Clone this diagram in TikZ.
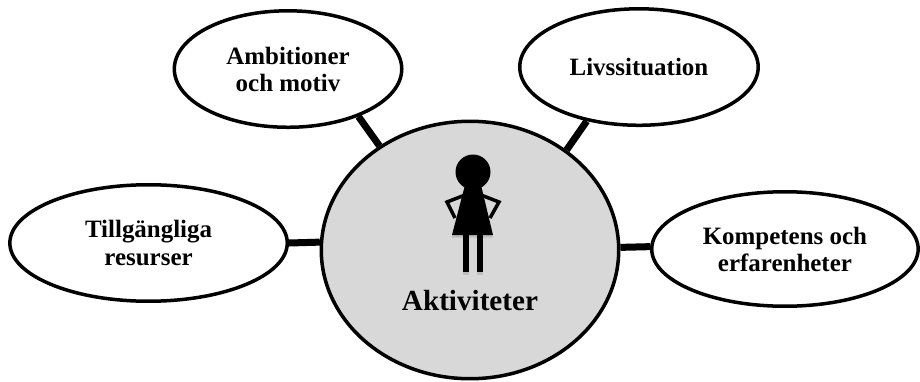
\documentclass[tikz,border=0pt]{standalone}
\usepackage{fontspec}
\setmainfont{Liberation Serif}
\usepackage{xcolor}
\usetikzlibrary{shapes,shapes.geometric,positioning,shadows}
\definecolor{hubgray}{RGB}{216,216,216}

\tikzset{
	bubble/.style = {draw, ellipse, line width = 0.07cm, fill = white, inner sep = 0pt, align = center, font = \bfseries\fontsize{14.2pt}{15.4pt}\selectfont},
	link/.style = {line width = 0.14cm},
	figure/.style = {line width = 0.07cm},
	figshadow/.style = {drop shadow = {opacity = 0.3, shadow xshift = 0pt, shadow yshift = -1.5pt}},
}

\begin{document}
\begin{tikzpicture}[x = 0.02cm, y = -0.02cm, node distance = 2cm]
	\useasboundingbox (0,0) rectangle (920,382);
	
	\node[draw, ellipse, line width = 0.07cm, fill = hubgray, minimum width = 5.95cm, minimum height = 5.15cm] (hub) at (470,250) {};
	\node[bubble, minimum width = 4.55cm, minimum height = 2.33cm, left of = hub, node distance = 3.64cm, yshift = 3.62cm] (q0) {Ambitioner\\och motiv};
	\node[bubble, minimum width = 4.77cm, minimum height = 2.33cm, right of = hub, node distance = 3.38cm, yshift = 3.66cm] (q1) {Livssituation};
	\node[bubble, minimum width = 5.55cm, minimum height = 2.33cm, left of = hub, node distance = 6.43cm, yshift = 0.14cm] (q2) {Tillgängliga\\resurser};
	\node[bubble, minimum width = 5.33cm, minimum height = 2.29cm, right of = hub, node distance = 6.3cm, yshift = 0.02cm] (q3) {Kompetens och\\erfarenheter};
	\node[font = \bfseries\fontsize{16.6pt}{18pt}\selectfont, below of = hub, node distance = 1.02cm] (label) {Aktiviteter};
	
	\draw[link] (hub.131) -- (q0.-34);
	\draw[link] (hub.46) -- (q1.226);
	\draw[link] (hub.177.5) -- (q2.east);
	\draw[link] (hub.1.75) -- (q3.179);
	
	% figure
	\node[circle, fill = black, minimum size = 0.7cm, inner sep = 0pt] (head) at (473,172) {};
	\fill[figshadow] (465,185) -- (481,185) -- (493,235) -- (452,235) -- cycle;
	\draw[figure] (465,195) -- (447,202) -- (455,218);
	\draw[figure] (481,195) -- (499,202) -- (490,218);
	\fill[figshadow] (463,234) rectangle (469,272);
	\fill[figshadow] (477,234) rectangle (482.5,272);
\end{tikzpicture}
\end{document}
